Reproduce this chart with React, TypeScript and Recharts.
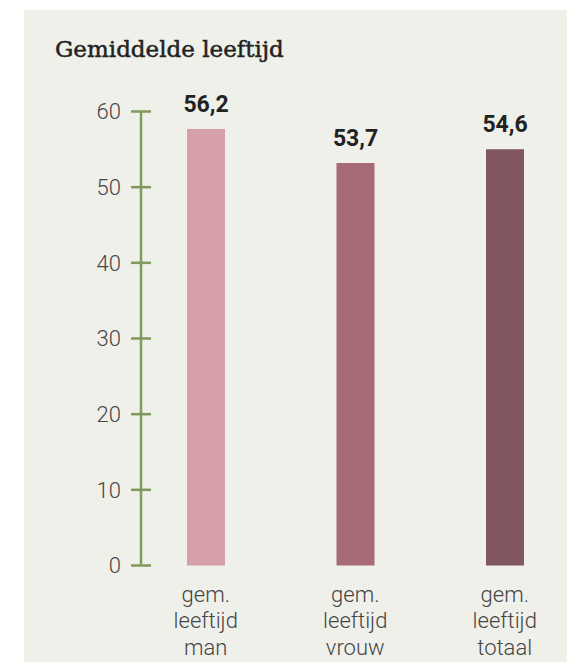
import React from "react";
import { BarChart, Bar, XAxis, YAxis, Cell, LabelList } from "recharts";

// bar heights as drawn in the picture, and the value labels printed above them
const categories = ["gem. leeftijd man", "gem. leeftijd vrouw", "gem. leeftijd totaal"];
const barHeights = [57.7, 53.2, 55.0];
const valueLabels = ["56,2", "53,7", "54,6"];
const yTicks = [0, 10, 20, 30, 40, 50, 60];

const barColors = ["#d5a0a8", "#a76b76", "#80565f"];
const axisGreen = "#7f9a5b";
const textGrey = "#454545";

const data = categories.map((c, i) => ({ name: c, value: barHeights[i], label: valueLabels[i] }));

const YTick = (props: any) => {
  const { x, y, payload } = props;
  return (
    <g>
      <line x1={x + 10} x2={x + 30} y1={y} y2={y} stroke={axisGreen} strokeWidth={2.5} />
      <text
        x={x}
        y={y}
        dy="0.36em"
        textAnchor="end"
        fill={textGrey}
        fontFamily="Roboto"
        fontWeight={300}
        fontSize={22}
      >
        {payload.value}
      </text>
    </g>
  );
};

const XTick = (props: any) => {
  const { x, y, payload } = props;
  const lines = String(payload.value).split(" ");
  return (
    <g>
      {lines.map((l, i) => (
        <text
          key={i}
          x={x}
          y={y + 36.2 + i * 26.7}
          textAnchor="middle"
          fill={textGrey}
          fontFamily="Roboto"
          fontWeight={300}
          fontSize={22}
        >
          {l}
        </text>
      ))}
    </g>
  );
};

const ValueLabel = (props: any) => {
  const { x, y, width, index } = props;
  return (
    <text
      x={x + width / 2}
      y={y - 17}
      textAnchor="middle"
      fill="#222"
      fontFamily="Roboto"
      fontWeight={700}
      fontSize={23}
    >
      {valueLabels[index]}
    </text>
  );
};

export default function App() {
  return (
    <div style={{ position: "relative", width: 567, height: 666 }}>
      <style>{`body{margin:0}`}</style>
      <div
        style={{
          position: "absolute",
          left: 24,
          top: 10,
          width: 543,
          height: 652,
          background: "#f0f0eb",
        }}
      >
        <div
          style={{
            position: "absolute",
            left: 31,
            top: 26,
            fontFamily: "DejaVu Serif",
            fontSize: 23,
            color: "#222",
            whiteSpace: "nowrap",
            WebkitTextStroke: "0.5px #222",
          }}
        >
          Gemiddelde leeftijd
        </div>
        <BarChart
          width={543}
          height={652}
          data={data}
          margin={{ top: 101.5, right: 0, bottom: 0.5, left: 0 }}
        >
          <XAxis
            dataKey="name"
            axisLine={false}
            tickLine={false}
            tickSize={0}
            tickMargin={0}
            height={96}
            interval={0}
            padding={{ left: -10, right: -12.5 }}
            tick={<XTick />}
          />
          <YAxis
            width={117}
            domain={[0, 60]}
            ticks={yTicks}
            interval={0}
            axisLine={{ stroke: axisGreen, strokeWidth: 2.5 }}
            tickLine={false}
            tickSize={10}
            tickMargin={10}
            tick={<YTick />}
          />
          <Bar dataKey="value" barSize={38} isAnimationActive={false}>
            {data.map((d, i) => (
              <Cell key={d.name} fill={barColors[i]} />
            ))}
            <LabelList dataKey="label" content={<ValueLabel />} />
          </Bar>
        </BarChart>
      </div>
    </div>
  );
}
